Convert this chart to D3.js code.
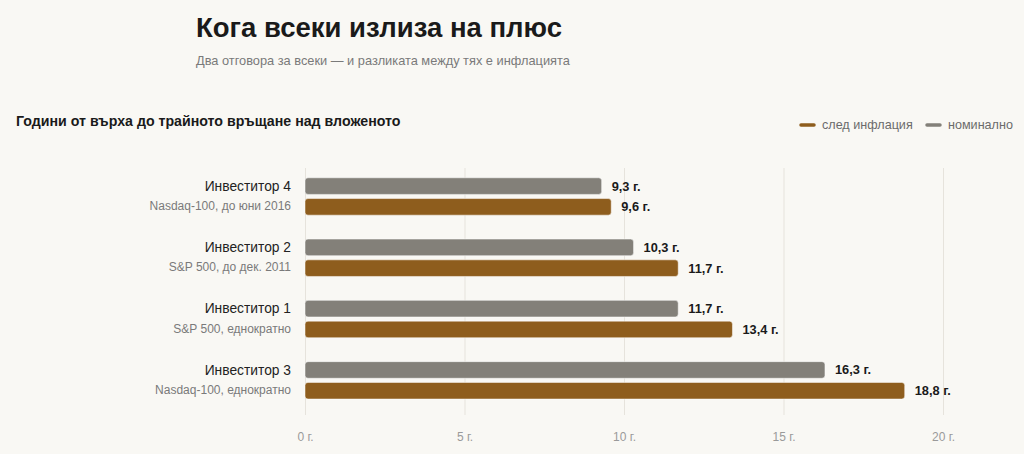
<!DOCTYPE html>
<html lang="bg">
<head>
<meta charset="utf-8">
<script src="https://cdn.jsdelivr.net/npm/d3@7"></script>
<style>
  html, body { margin: 0; padding: 0; background: #f9f8f4; }
  svg { display: block; font-family: "Liberation Sans", Arial, Helvetica, sans-serif; }
</style>
</head>
<body>
<div id="chart"></div>
<script>
// ── Data ─────────────────────────────────────────────
const investors   = ["Инвеститор 4", "Инвеститор 2", "Инвеститор 1", "Инвеститор 3"];
const subtitles   = ["Nasdaq-100, до юни 2016", "S&P 500, до дек. 2011", "S&P 500, еднократно", "Nasdaq-100, еднократно"];
const nominal     = [9.3, 10.3, 11.7, 16.3];
const realYears   = [9.6, 11.7, 13.4, 18.8];
const seriesKeys  = ["nominal", "real"];
const seriesNames = { real: "след инфлация", nominal: "номинално" };
const tickValues  = [0, 5, 10, 15, 20];

const W = 1024, H = 454;
const colors = { nominal: "#838079", real: "#8e5d1d" };
const fmt = v => d3.format(".1f")(v).replace(".", ",") + " г.";

const rows = investors.map((name, i) => ({
    name, sub: subtitles[i], nominal: nominal[i], real: realYears[i]
}));

const svg = d3.select("#chart").append("svg")
    .attr("width", W).attr("height", H)
    .attr("viewBox", `0 0 ${W} ${H}`);

// Title block
svg.append("text").attr("x", 196).attr("y", 37)
    .style("font-size", "27.5px").style("font-weight", "bold").style("fill", "#1a1a1a")
    .text("Кога всеки излиза на плюс");
svg.append("text").attr("x", 196).attr("y", 65)
    .style("font-size", "12.8px").style("fill", "#7a7a7a")
    .text("Два отговора за всеки — и разликата между тях е инфлацията");
svg.append("text").attr("x", 16).attr("y", 126)
    .style("font-size", "14.2px").style("font-weight", "bold").style("fill", "#1a1a1a")
    .text("Години от върха до трайното връщане над вложеното");

// Legend
const legendItems = [
    { key: "real", x: 801 },
    { key: "nominal", x: 927 }
];
const legend = svg.append("g").attr("transform", "translate(0,125)");
legendItems.forEach(d => {
    legend.append("line").attr("x1", d.x).attr("x2", d.x + 13)
        .attr("stroke", colors[d.key]).attr("stroke-width", 3.5).attr("stroke-linecap", "round");
    legend.append("text").attr("x", d.x + 21).attr("dy", "0.35em")
        .style("font-size", "12.6px").style("fill", "#6b6b6b")
        .text(seriesNames[d.key]);
});

// Scales
const x = d3.scaleLinear().domain([0, 20]).range([305, 943]);
const y = d3.scaleBand().domain(investors).range([168, 415])
    .paddingInner(0.39).paddingOuter(0.21).align(0.38);
const ySub = d3.scaleBand().domain(seriesKeys).range([0, y.bandwidth()]).paddingInner(0.2);

// Grid + axis
const axis = svg.append("g").attr("transform", "translate(0,415)")
    .call(d3.axisBottom(x).tickValues(tickValues).tickSize(-(415 - 168)).tickFormat(d => d + " г."));
axis.select(".domain").remove();
axis.selectAll(".tick line").attr("stroke", "#e6e3dc").attr("stroke-width", 1);
axis.selectAll(".tick text").attr("y", 17)
    .style("font-size", "12px").style("fill", "#9a9a9a")
    .style("font-family", "'Liberation Sans', Arial, sans-serif");

// Groups
const group = svg.append("g").selectAll("g.row").data(rows).join("g")
    .attr("class", "row")
    .attr("transform", d => `translate(0,${y(d.name)})`);

group.append("text").attr("x", 291).attr("y", ySub("nominal") + ySub.bandwidth() / 2)
    .attr("text-anchor", "end").attr("dy", "0.35em")
    .style("font-size", "13.8px").style("fill", "#222")
    .text(d => d.name);
group.append("text").attr("x", 291).attr("y", ySub("real") + ySub.bandwidth() / 2 - 1)
    .attr("text-anchor", "end").attr("dy", "0.35em")
    .style("font-size", "12px").style("fill", "#7a7a7a")
    .text(d => d.sub);

seriesKeys.forEach(key => {
    group.append("rect")
        .attr("x", x(0)).attr("y", ySub(key))
        .attr("width", d => x(d[key]) - x(0)).attr("height", ySub.bandwidth())
        .attr("rx", 3)
        .attr("fill", colors[key])
        .attr("stroke", "#ffffff").attr("stroke-opacity", 0.5).attr("stroke-width", 1);
    group.append("text")
        .attr("x", d => x(d[key]) + 10).attr("y", ySub(key) + ySub.bandwidth() / 2)
        .attr("dy", "0.35em")
        .style("font-size", "12.8px").style("font-weight", "bold").style("fill", "#1a1a1a")
        .text(d => fmt(d[key]));
});
</script>
</body>
</html>
